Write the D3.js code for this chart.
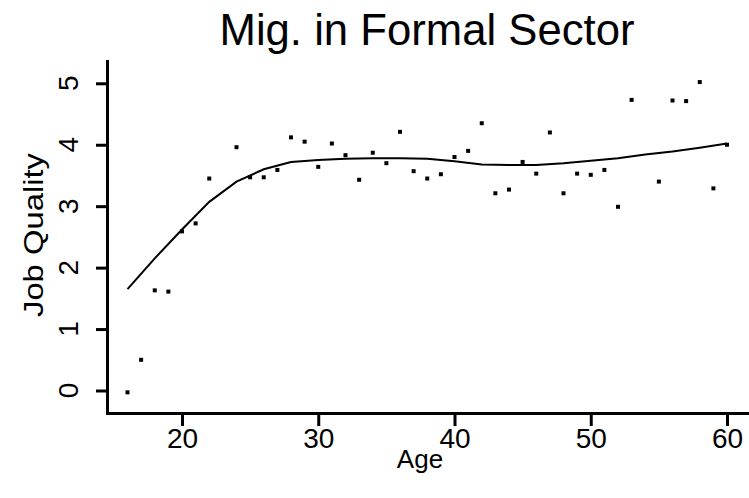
<!DOCTYPE html>
<html>
<head>
<meta charset="utf-8">
<script src="https://cdn.jsdelivr.net/npm/d3@7"></script>
<style>
  html, body { margin: 0; padding: 0; background: #fff; }
  svg { display: block; }
  text { font-family: "Liberation Sans", Arial, sans-serif; fill: #000; }
</style>
</head>
<body>
<svg id="chart" width="749" height="498"></svg>
<script>
// ---- data ----
const title = "Mig. in Formal Sector";
const xLabel = "Age";
const yLabel = "Job Quality";
const xTicks = [20, 30, 40, 50, 60];
const yTicks = [0, 1, 2, 3, 4, 5];

// scatter points (age, job quality)
const pointAges = [16, 17, 18, 19, 20, 21, 22, 24, 25, 26, 27, 28, 29, 30, 31, 32, 33, 34, 35, 36, 37, 38, 39, 40, 41, 42, 43, 44, 45, 46, 47, 48, 49, 50, 51, 52, 53, 55, 56, 57, 58, 59, 60];
const pointValues = [-0.03, 0.5, 1.63, 1.61, 2.59, 2.72, 3.45, 3.96, 3.47, 3.47, 3.59, 4.12, 4.05, 3.64, 4.02, 3.83, 3.43, 3.87, 3.70, 4.21, 3.57, 3.45, 3.52, 3.80, 3.90, 4.35, 3.21, 3.27, 3.72, 3.53, 4.20, 3.21, 3.53, 3.51, 3.59, 2.99, 4.73, 3.40, 4.72, 4.71, 5.02, 3.29, 4.00];

// smoothed fit line
const lineAges = [16, 18, 20, 22, 24, 26, 28, 30, 32, 34, 36, 38, 40, 42, 44, 46, 48, 50, 52, 54, 56, 58, 60];
const lineValues = [1.65, 2.15, 2.62, 3.07, 3.40, 3.60, 3.72, 3.75, 3.77, 3.78, 3.78, 3.77, 3.73, 3.68, 3.67, 3.67, 3.70, 3.74, 3.78, 3.84, 3.89, 3.95, 4.02];

// ---- drawing ----
const svg = d3.select("#chart");
const x = d3.scaleLinear().domain([20, 60]).range([182, 727]);
const y = d3.scaleLinear().domain([0, 5]).range([390.5, 83.3]);

// title
svg.append("text")
  .attr("x", 427).attr("y", 45)
  .attr("text-anchor", "middle")
  .attr("font-size", 44)
  .attr("textLength", 415).attr("lengthAdjust", "spacingAndGlyphs")
  .text(title);

// axis lines
svg.append("line").attr("x1", 107.5).attr("x2", 107.5).attr("y1", 60).attr("y2", 415)
  .attr("stroke", "#000").attr("stroke-width", 3);
svg.append("line").attr("x1", 106).attr("x2", 749).attr("y1", 413.5).attr("y2", 413.5)
  .attr("stroke", "#000").attr("stroke-width", 3);

// x axis ticks & labels
const xAxis = d3.axisBottom(x).tickValues(xTicks).tickSize(12).tickFormat(d3.format("d"));
const gx = svg.append("g").attr("transform", "translate(0,414)").call(xAxis);
gx.select(".domain").remove();
gx.selectAll(".tick line").attr("stroke", "#000").attr("stroke-width", 3);
gx.selectAll(".tick text")
  .attr("y", 34).attr("dy", null)
  .attr("font-size", 28).attr("font-family", "Liberation Sans, Arial, sans-serif").attr("fill", "#000");

// y axis ticks
const yAxis = d3.axisLeft(y).tickValues(yTicks).tickSize(11).tickFormat("");
const gy = svg.append("g").attr("transform", "translate(107,0)").call(yAxis);
gy.select(".domain").remove();
gy.selectAll(".tick line").attr("stroke", "#000").attr("stroke-width", 3);
gy.selectAll(".tick text").remove();

// y tick labels (rotated)
svg.append("g").selectAll("text").data(yTicks).join("text")
  .attr("transform", d => `translate(78,${y(d)}) rotate(-90)`)
  .attr("text-anchor", "middle")
  .attr("font-size", 28)
  .text(d => d);

// axis titles
svg.append("text")
  .attr("x", 420).attr("y", 468)
  .attr("text-anchor", "middle")
  .attr("font-size", 26)
  .text(xLabel);
svg.append("text")
  .attr("transform", "translate(43,235) rotate(-90)")
  .attr("text-anchor", "middle")
  .attr("font-size", 28)
  .attr("textLength", 164).attr("lengthAdjust", "spacingAndGlyphs")
  .text(yLabel);

// fit line
const line = d3.line().x((d, i) => x(lineAges[i])).y(d => y(d));
svg.append("path").datum(lineValues)
  .attr("d", line).attr("fill", "none").attr("stroke", "#000").attr("stroke-width", 2);

// points
svg.append("g").selectAll("rect").data(pointValues).join("rect")
  .attr("x", (d, i) => x(pointAges[i]) - 2)
  .attr("y", d => y(d) - 2)
  .attr("width", 4).attr("height", 4)
  .attr("fill", "#000");
</script>
</body>
</html>
